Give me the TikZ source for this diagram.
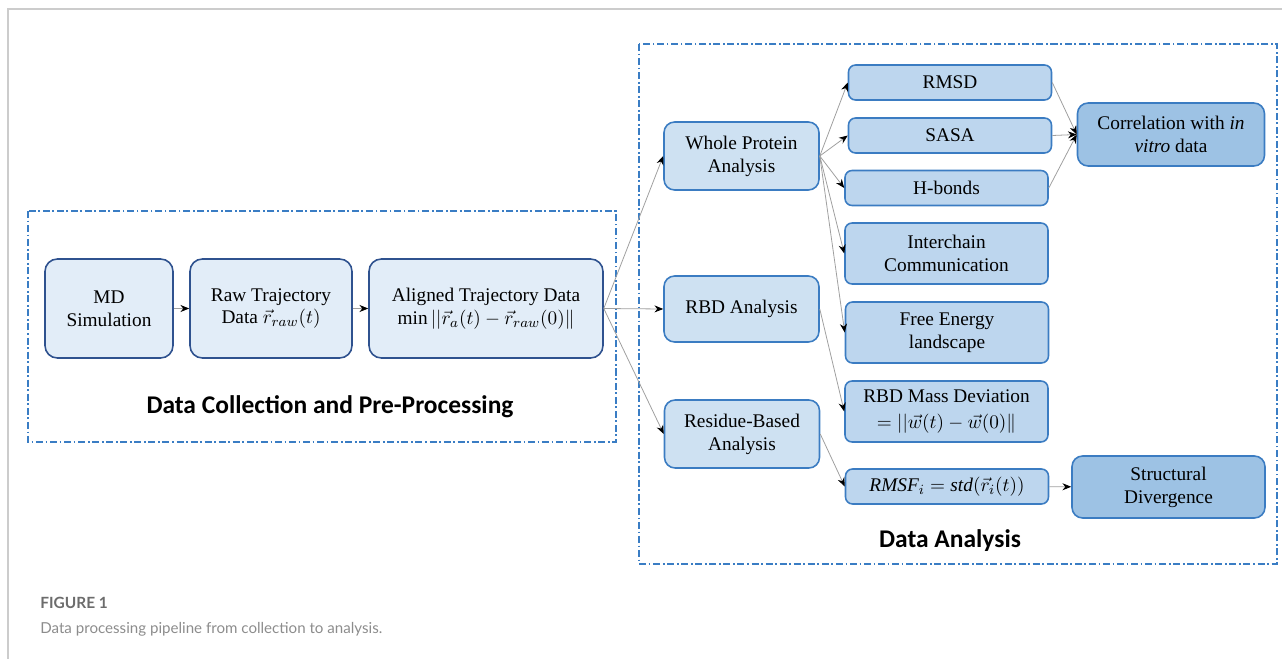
\documentclass[tikz,border=0pt]{standalone}
\usepackage{amsmath,amssymb}
\usepackage{fontspec}
\setmainfont{Liberation Serif}
\newfontfamily\titlefont{Carlito}
\newfontfamily\capfont{Lato}
\usetikzlibrary{arrows.meta}
\definecolor{frameblue}{HTML}{3A7DC4}
\definecolor{darkedge}{HTML}{2F528F}
\definecolor{midedge}{HTML}{3B7CC2}
\definecolor{fillA}{HTML}{E2EDF8}
\definecolor{fillB}{HTML}{CEE1F2}
\definecolor{fillC}{HTML}{BDD6EE}
\definecolor{fillD}{HTML}{9DC2E4}

\begin{document}
\begin{tikzpicture}[x=0.02cm, y=-0.02cm,
  txt/.style={align=center, inner sep=1pt, font=\fontsize{11}{13}\selectfont},
  prebox/.style={txt, draw=darkedge, fill=fillA, line width=0.9pt, rounded corners=7pt},
  anbox/.style={txt, draw=midedge, fill=fillB, line width=0.9pt, rounded corners=6pt, minimum width=3.1cm},
  subbox/.style={txt, draw=midedge, fill=fillC, line width=0.9pt, rounded corners=4pt, minimum width=4.06cm},
  outbox/.style={txt, draw=midedge, fill=fillD, line width=0.9pt, rounded corners=6pt},
  group/.style={draw=frameblue, line width=0.8pt, dash pattern=on 4pt off 1.5pt on 1pt off 1.5pt},
  link/.style={draw=gray!75, line width=0.45pt, -{Stealth[length=5pt,width=4pt,black]}},
  heading/.style={font=\titlefont\bfseries\fontsize{14.5}{16}\selectfont}]
  \useasboundingbox (0,0) rectangle (1282,659);
  % moldura
  \draw[gray!40, line width=1.2pt] (8,659) -- (8,9) -- (1282,9);
  % grupos
  \draw[group] (28,211) rectangle (616,442);
  \draw[group] (639,44) rectangle (1277,564);
  \node[heading] (pretitle) at (330,407) {Data Collection and Pre-Processing};
  \node[heading] (antitle) at (950,541) {Data Analysis};
  % coleta
  \node[prebox, minimum width=2.56cm, minimum height=1.98cm] (md) at (109,308.5) {MD\\Simulation};
  \node[prebox, minimum width=3.24cm, minimum height=1.98cm] (raw) at (271,308.5) {Raw Trajectory\\Data $\vec{r}_{raw}(t)$};
  \node[prebox, minimum width=4.68cm, minimum height=1.98cm] (aligned) at (486,308.5) {Aligned Trajectory Data\\$\min||\vec{r}_a(t)-\vec{r}_{raw}(0)\|$};
  % analise
  \node[anbox, minimum height=1.36cm] (whole) at (741.5,156) {Whole Protein\\Analysis};
  \node[anbox, minimum height=1.32cm] (rbd) at (741.5,309) {RBD Analysis};
  \node[anbox, minimum height=1.36cm] (residue) at (742,434) {Residue-Based\\Analysis};
  \node[subbox, minimum height=0.7cm] (rmsd) at (950,82.5) {RMSD};
  \node[subbox, minimum height=0.7cm] (sasa) at (950,135.5) {SASA};
  \node[subbox, minimum height=0.7cm] (hbonds) at (946.5,188) {H-bonds};
  \node[subbox, minimum height=1.22cm] (inter) at (946.5,253.5) {Interchain\\Communication};
  \node[subbox, minimum height=1.22cm] (free) at (947,332.5) {Free Energy\\landscape};
  \node[subbox, minimum height=1.22cm] (mass) at (946.5,411.5) {RBD Mass Deviation\\[2pt]$=||\vec{w}(t)-\vec{w}(0)\|$};
  \node[subbox, minimum height=0.7cm] (rmsf) at (947,486.5) {$\mathit{RMSF}_i=\mathit{std}(\vec{r}_i(t))$};
  \node[outbox, minimum width=3.74cm, minimum height=1.26cm] (corr) at (1171,134.5) {Correlation with \textit{in}\\\textit{vitro} data};
  \node[outbox, minimum width=3.86cm, minimum height=1.24cm] (diverg) at (1168.5,487) {Structural\\Divergence};
  % setas
  \draw[link] (md) -- (raw);
  \draw[link] (raw) -- (aligned);
  \foreach \t in {whole,rbd,residue} \draw[link] (aligned.east) -- (\t.west);
  \foreach \t in {rmsd,sasa,hbonds,inter,free} \draw[link] (whole.east) -- (\t.west);
  \draw[link] (rbd.east) -- (mass.west);
  \draw[link] (residue.east) -- (rmsf.west);
  \foreach \t in {rmsd,sasa,hbonds} \draw[link] (\t.east) -- (corr.west);
  \draw[link] (rmsf) -- (diverg);
  % legenda
  \node[anchor=base west, inner sep=0pt, text=gray!85!black, font=\capfont\bfseries\fontsize{8.8}{11}\selectfont] (figno) at (40,608) {FIGURE 1};
  \node[anchor=base west, inner sep=0pt, text=gray!90, font=\capfont\fontsize{8.6}{11}\selectfont] (caption) at (40,633) {Data processing pipeline from collection to analysis.};
\end{tikzpicture}
\end{document}
